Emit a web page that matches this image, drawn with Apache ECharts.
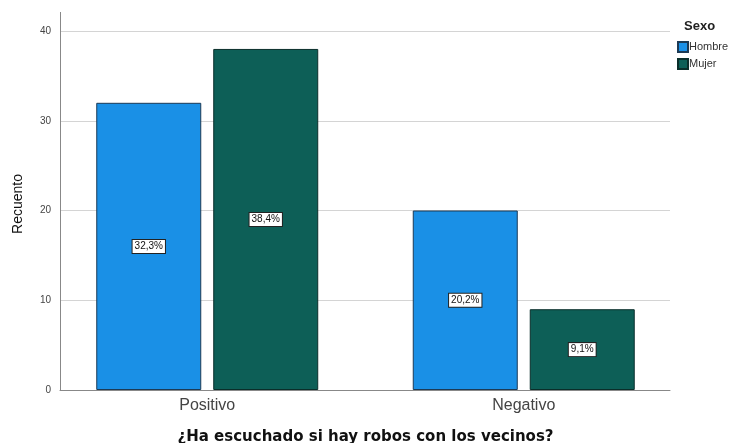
<!DOCTYPE html>
<html>
<head>
<meta charset="utf-8">
<script src="https://cdn.jsdelivr.net/npm/echarts@6/dist/echarts.min.js"></script>
<style>html,body{margin:0;padding:0;background:#fff}#c{width:737px;height:443px}</style>
</head>
<body>
<div id="c"></div>
<script>
const categories = ['Positivo', 'Negativo'];
const seriesNames = ['Hombre', 'Mujer'];
const hombre = [32, 20];
const mujer = [38, 9];
const hombrePct = ['32,3%', '20,2%'];
const mujerPct = ['38,4%', '9,1%'];
const yTicks = [0, 10, 20, 30, 40];

const chart = echarts.init(document.getElementById('c'));
const F = 'Liberation Sans, Arial, sans-serif';
const labelStyle = (arr) => ({
  show: true, position: 'inside',
  formatter: p => arr[p.dataIndex],
  backgroundColor: '#fff', borderColor: '#222', borderWidth: 1,
  padding: [2, 2, 1, 2], color: '#111', fontSize: 10, fontFamily: F
});
chart.setOption({
  animation: false,
  backgroundColor: '#fff',
  legend: {
    data: seriesNames, orient: 'vertical', left: 672, top: 36,
    itemWidth: 10, itemHeight: 10, itemGap: 5, icon: 'rect',
    textStyle: { fontSize: 11, fontFamily: F, color: '#333', padding: [0, 0, 0, -4] }
  },
  graphic: [
    { type: 'text', left: 684, top: 20, style: { text: 'Sexo', font: 'bold 13px ' + F, fill: '#222' } },
    { type: 'line', shape: { x1: 60.5, y1: 12, x2: 60.5, y2: 31 }, style: { stroke: '#888', lineWidth: 1 } },
    { type: 'text', x: 18, y: 204, rotation: Math.PI / 2,
      style: { text: 'Recuento', font: '14px ' + F, fill: '#111', align: 'center', verticalAlign: 'middle' } }
  ],
  grid: [
    { left: 60, right: 67, top: 31, bottom: 53, containLabel: false, outerBoundsMode: 'none' },
    { left: 49, width: 633, top: 31, bottom: 53, containLabel: false, outerBoundsMode: 'none' }
  ],
  xAxis: [
    { gridIndex: 0, type: 'value', min: 0, max: 1, axisLabel: { show: false }, axisTick: { show: false }, splitLine: { show: false },
      axisLine: { show: true, lineStyle: { color: '#888' } } },
    { gridIndex: 1, type: 'category', data: categories, axisLine: { show: false }, axisTick: { show: false },
      axisLabel: { fontSize: 16, fontFamily: F, color: '#444', margin: 8 },
      name: '¿Ha escuchado si hay robos con los vecinos?', nameLocation: 'middle', nameGap: 40,
      nameTextStyle: { fontSize: 15, fontWeight: 'bold', fontFamily: 'DejaVu Sans, sans-serif', color: '#111' } }
  ],
  yAxis: [
    { gridIndex: 0, type: 'value', min: 0, max: 40, interval: 10,
      axisLine: { show: true, lineStyle: { color: '#888' } },
      axisTick: { show: false },
      axisLabel: { fontSize: 10, fontFamily: F, color: '#444', margin: 9 },
      splitLine: { show: true, lineStyle: { color: '#d4d4d4' } } },
    { gridIndex: 1, type: 'value', min: 0, max: 40, show: false, splitLine: { show: false } }
  ],
  series: [
    { name: 'Hombre', type: 'bar', xAxisIndex: 1, yAxisIndex: 1, data: hombre, barWidth: 105, barGap: '11.4%',
      itemStyle: { color: '#1a90e6', borderColor: '#1c3a55', borderWidth: 1 }, label: labelStyle(hombrePct) },
    { name: 'Mujer', type: 'bar', xAxisIndex: 1, yAxisIndex: 1, data: mujer, barWidth: 105, barGap: '11.4%',
      itemStyle: { color: '#0d5f57', borderColor: '#0a2e2a', borderWidth: 1 }, label: labelStyle(mujerPct) }
  ]
});
</script>
</body>
</html>
